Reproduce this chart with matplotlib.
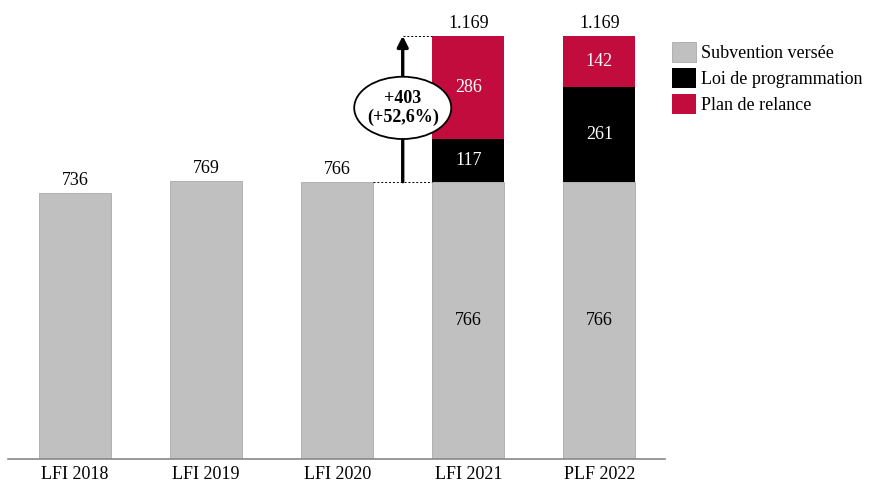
import matplotlib
matplotlib.use("Agg")
import matplotlib.pyplot as plt
from matplotlib.patches import Ellipse, Patch

plt.rcParams['font.family'] = ['Liberation Serif', 'DejaVu Serif']

categories = ["LFI 2018", "LFI 2019", "LFI 2020", "LFI 2021", "PLF 2022"]
subvention = [736, 769, 766, 766, 766]
programmation = [0, 0, 0, 117, 261]
relance = [0, 0, 0, 286, 142]
totals = [736, 769, 766, 1169, 1169]
total_labels = ["736", "769", "766", "1.169", "1.169"]

GREY = "#C0C0C0"
RED = "#C20C3D"

fig = plt.figure(figsize=(8.8, 4.83), dpi=100)
ax = fig.add_axes([8 / 880, 24 / 483, 657 / 880, 459 / 483])

x = list(range(len(categories)))
w = 0.55
ax.bar(x, subvention, w, color=GREY, edgecolor="#AAAAAA", linewidth=0.6)
ax.bar(x, programmation, w, bottom=subvention, color="black")
bottoms = [s + p for s, p in zip(subvention, programmation)]
ax.bar(x, relance, w, bottom=bottoms, color=RED)

fs = 13
for i in x:
    ax.text(i, totals[i] + 10, total_labels[i], ha="center", va="bottom", fontsize=fs)
    if programmation[i]:
        ax.text(i, subvention[i] / 2, str(subvention[i]), ha="center", va="center", fontsize=fs)
        ax.text(i, subvention[i] + programmation[i] / 2, str(programmation[i]),
                ha="center", va="center", fontsize=fs, color="white")
        ax.text(i, bottoms[i] + relance[i] / 2, str(relance[i]),
                ha="center", va="center", fontsize=fs, color="white")

# increase between LFI 2020 and LFI 2021
xa = 2.5
ax.plot([2 + w / 2, 3 - w / 2], [766, 766], ls=(0, (2, 2)), color="black", lw=0.7)
ax.plot([xa, 3 - w / 2], [1169, 1169], ls=(0, (2, 2)), color="black", lw=0.7)
ax.annotate("", xy=(xa, 1169), xytext=(xa, 766),
            arrowprops=dict(arrowstyle="-|>", color="black", lw=2.4, mutation_scale=16,
                            shrinkA=0, shrinkB=0))
ax.add_patch(Ellipse((xa, 970), 0.74, 172, facecolor="white", edgecolor="black", lw=1.3, zorder=3))
ax.text(xa, 970, "+403\n(+52,6%)", ha="center", va="center", fontsize=fs,
        fontweight="bold", zorder=4, linespacing=1.15)

ax.set_xlim(-0.51, 4.5)
ax.set_ylim(0, 1268)
ax.set_xticks(x)
ax.set_xticklabels(categories, fontsize=fs)
ax.tick_params(axis="x", length=0, pad=5)
ax.set_yticks([])
for s in ["top", "right", "left"]:
    ax.spines[s].set_visible(False)
ax.spines["bottom"].set_color("#888888")
ax.spines["bottom"].set_linewidth(1.2)

handles = [Patch(facecolor=GREY, edgecolor="#AAAAAA", lw=0.6),
           Patch(facecolor="black"),
           Patch(facecolor=RED)]
fig.legend(handles, ["Subvention versée", "Loi de programmation", "Plan de relance"],
           loc="upper left", bbox_to_anchor=(665 / 880, 1 - 35 / 483), frameon=False,
           fontsize=fs, handlelength=1.3, handleheight=1.35, handletextpad=0.3,
           labelspacing=0.3, borderaxespad=0)

fig.savefig("out.png", dpi=100)
